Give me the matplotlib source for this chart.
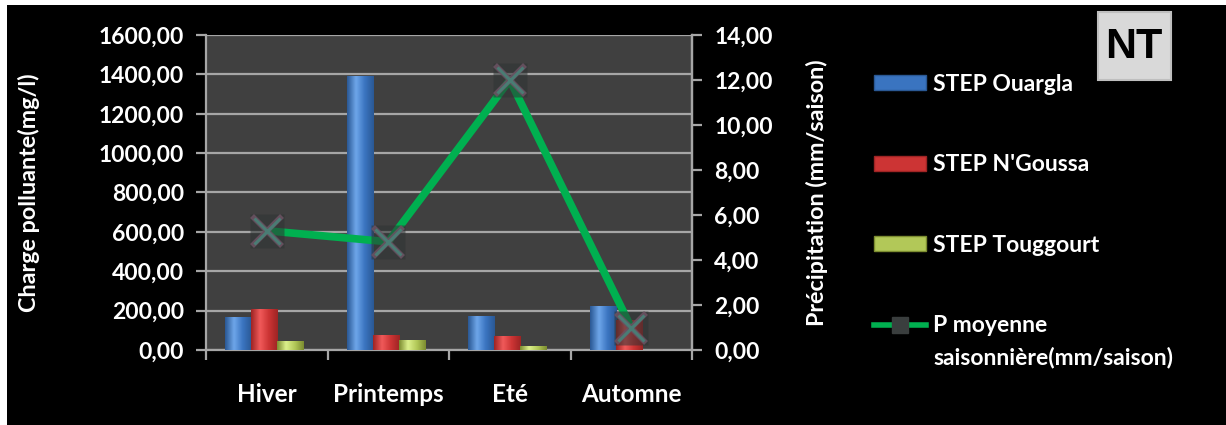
import numpy as np
import matplotlib
matplotlib.use("Agg")
import matplotlib.pyplot as plt
from matplotlib.patches import Rectangle, FancyBboxPatch
from matplotlib.lines import Line2D
from matplotlib.ticker import FuncFormatter, MultipleLocator
from matplotlib.colors import LinearSegmentedColormap

# --- data -----------------------------------------------------------------
seasons = ["Hiver", "Printemps", "Eté", "Automne"]
step_ouargla = [169.0, 1392.0, 172.0, 222.0]
step_ngoussa = [208.0, 76.0, 70.0, 150.0]
step_touggourt = [48.0, 50.0, 20.0, 0.0]
precip = [5.30, 4.81, 12.0, 1.0]
series_names = ["STEP Ouargla", "STEP N'Goussa", "STEP Touggourt"]
line_name = "P moyenne"
line_name_2 = "saisonnière(mm/saison)"

FONT = "Lato"
plt.rcParams["font.family"] = [FONT, "DejaVu Sans"]
plt.rcParams["font.weight"] = "bold"

W, H = 1226, 425
fig = plt.figure(figsize=(W / 100, H / 100), dpi=100, facecolor="white")
# black chart area inside a thin white margin (left/top)
fig.patches.append(Rectangle((7 / W, 0), 1 - 7 / W, 1 - 5 / H, transform=fig.transFigure,
                             facecolor="black", edgecolor="none", zorder=-5))

ax = fig.add_axes([206 / W, 1 - 350 / H, (692 - 206) / W, (350 - 35) / H])
ax.set_facecolor("#404040")

x = np.arange(len(seasons))
bw = 0.214
palettes = [
    ("#2a5894", "#6ea6ea", "#3a74c0"),
    ("#9e2424", "#f05a5a", "#cc3434"),
    ("#7c8c30", "#dcf08c", "#b2c858"),
]


def gradient_bars(ax, xs, vals, pal, label):
    dark, light, base = pal
    cont = ax.bar(xs, vals, bw, color=base, edgecolor="none", label=label, zorder=3)
    cmap = LinearSegmentedColormap.from_list("g", [dark, light, base, dark])
    grad = np.linspace(0, 1, 64).reshape(1, -1)
    for r in cont.patches:
        if r.get_height() <= 0:
            continue
        im = ax.imshow(grad, cmap=cmap, aspect="auto", zorder=3.5,
                       extent=(r.get_x(), r.get_x() + r.get_width(), 0, r.get_height()),
                       interpolation="bicubic")
        im.set_clip_path(r)
    return cont


offsets = [-bw, 0.0, bw]
for vals, pal, name, off in zip([step_ouargla, step_ngoussa, step_touggourt],
                                palettes, series_names, offsets):
    gradient_bars(ax, x + off - 0.02, vals, pal, name)

TICK_FS = 16.5
LABEL_FS = 17.5
YLABEL_FS = 16.8

ax.set_xlim(-0.5, len(seasons) - 0.5)
ax.set_ylim(0, 1600)
ax.yaxis.set_major_locator(MultipleLocator(200))
ax.yaxis.set_major_formatter(FuncFormatter(lambda v, p: f"{v:.2f}".replace(".", ",")))
ax.grid(axis="y", color="#a6a6a6", linewidth=1.6, zorder=1)
ax.set_axisbelow(True)

ax.spines["top"].set_visible(False)
for s in ["left", "bottom", "right"]:
    ax.spines[s].set_color("#a6a6a6")
    ax.spines[s].set_linewidth(1.6)

ax.set_xticks(x)
ax.set_xticklabels(seasons)
ax.set_xticks(np.arange(-0.5, len(seasons)), minor=True)
ax.tick_params(axis="x", which="major", length=0, pad=24, labelsize=LABEL_FS,
               labelcolor="white")
ax.tick_params(axis="x", which="minor", length=7, width=1.6, color="#a6a6a6")
ax.tick_params(axis="y", length=7, width=1.6, color="#a6a6a6", labelsize=TICK_FS,
               labelcolor="white", pad=9)
ax.set_ylabel("Charge polluante(mg/l)", color="white", fontsize=YLABEL_FS,
              fontweight="bold")
ax.yaxis.set_label_coords(-0.342, 0.5)

# secondary axis: precipitation
ax2 = ax.twinx()
ax2.set_ylim(0, 14)
ax2.yaxis.set_major_locator(MultipleLocator(2))
ax2.yaxis.set_major_formatter(FuncFormatter(lambda v, p: f"{v:.2f}".replace(".", ",")))
for s in ["top", "left", "bottom"]:
    ax2.spines[s].set_visible(False)
ax2.spines["right"].set_color("#a6a6a6")
ax2.spines["right"].set_linewidth(1.6)
ax2.tick_params(axis="y", length=7, width=1.6, color="#a6a6a6", labelsize=TICK_FS,
                labelcolor="white", pad=9)
ax2.set_ylabel("Précipitation (mm/saison)", color="white", fontsize=YLABEL_FS,
               fontweight="bold")
ax2.yaxis.set_label_coords(1.235, 0.5)

ax2.plot(x, precip, color="#00b050", linewidth=5.5, solid_capstyle="round", zorder=4)
ax2.plot(x, precip, linestyle="none", marker="s", markersize=24,
         markerfacecolor="#2f3434", markeredgecolor="none", alpha=0.55, zorder=5)
ax2.plot(x, precip, linestyle="none", marker="x", markersize=21,
         markeredgecolor="#6a5262", markeredgewidth=4.0, alpha=0.9, zorder=6)
ax2.plot(x, precip, linestyle="none", marker="x", markersize=19,
         markeredgecolor="#4a7c74", markeredgewidth=2.2, zorder=7)

# legend
handles = [Rectangle((0, 0), 1, 1, facecolor=p[2], edgecolor=p[0]) for p in palettes]
handles.append(Line2D([], [], color="#00b050", linewidth=4, marker="s", markersize=12,
                      markerfacecolor="#3a3e3e", markeredgecolor="#3a3e3e"))
leg = fig.legend(handles, series_names + [line_name], loc="upper left",
                 bbox_to_anchor=(853 / W, 1 - 53 / H), frameon=False,
                 prop={"family": FONT, "weight": "bold", "size": 16.5},
                 labelcolor="white", handlelength=2.3, handleheight=0.65,
                 handletextpad=0.3, labelspacing=2.6)
fig.text(933 / W, 1 - 358 / H, line_name_2, color="white", fontsize=16.5,
         fontweight="bold", va="center", ha="left")

# "NT" badge
badge = FancyBboxPatch((1098 / W, 1 - 80 / H), 73 / W, 68 / H, transform=fig.transFigure,
                       boxstyle="square,pad=0", facecolor="#d9d9d9", edgecolor="#bfbfbf",
                       linewidth=1.5)
fig.patches.append(badge)
fig.text(1134 / W, 1 - 47 / H, "NT", color="black", fontsize=31, fontweight="bold",
         family=["Liberation Sans", "DejaVu Sans"], ha="center", va="center")

fig.savefig("out.png", dpi=100, facecolor=fig.get_facecolor())
